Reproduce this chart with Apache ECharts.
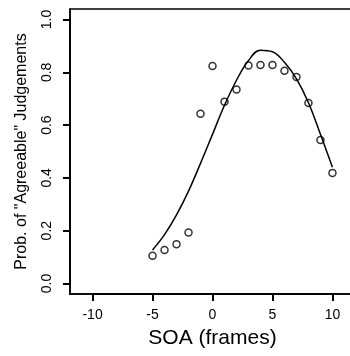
<!DOCTYPE html>
<html>
<head>
<meta charset="utf-8">
<script src="https://cdn.jsdelivr.net/npm/echarts@6/dist/echarts.min.js"></script>
<style>
  html, body { margin: 0; padding: 0; background: #fff; }
  #chart { width: 350px; height: 356px; }
</style>
</head>
<body>
<div id="chart"></div>
<script>
// observed proportions per SOA
const soa = [-5, -4, -3, -2, -1, 0, 1, 2, 3, 4, 5, 6, 7, 8, 9, 10]
const observed = [0.105, 0.127, 0.149, 0.193, 0.643, 0.824, 0.689, 0.735,
  0.826, 0.828, 0.828, 0.806, 0.782, 0.684, 0.544, 0.419]
// fitted curve at the same SOAs
const fitted = [0.127, 0.185, 0.26, 0.35, 0.455, 0.565, 0.675, 0.77,
  0.845, 0.884, 0.878, 0.838, 0.775, 0.685, 0.565, 0.44]
const xTicks = [-10, -5, 0, 5, 10]
const yTicks = [0, 0.2, 0.4, 0.6, 0.8, 1.0]
const xTitle = 'SOA (frames)'
const yTitle = 'Prob. of "Agreeable" Judgements'

const FONT = '"Liberation Sans", Arial, Helvetica, sans-serif'

// plot box (R style, 4% padding around the tick range)
const BOX = { left: 70, top: 9, width: 285, height: 285 }
const X_PAD = 1.88, Y_PAD = 0.04
const xSpan = xTicks[xTicks.length - 1] - xTicks[0]
const ySpan = yTicks[yTicks.length - 1] - yTicks[0]
const pxPerX = BOX.width / (xSpan + 2 * X_PAD)
const pxPerY = BOX.height / (ySpan + 2 * Y_PAD)
const inner = {
  left: BOX.left + X_PAD * pxPerX,
  width: xSpan * pxPerX,
  top: BOX.top + Y_PAD * pxPerY,
  height: ySpan * pxPerY,
}

const chart = echarts.init(document.getElementById('chart'), null, { renderer: 'canvas' })

chart.setOption({
  animation: false,
  grid: [
    { ...BOX, outerBoundsMode: 'none', show: true, borderColor: '#000', borderWidth: 1.5 },
    // inner grid spanning the tick range only; carries ticks + labels
    { ...inner, outerBoundsMode: 'none', show: true, borderColor: 'rgba(0,0,0,0)', borderWidth: 0 },
  ],
  // axis titles
  graphic: [
    {
      type: 'text',
      x: inner.left + inner.width / 2,
      y: 338,
      style: {
        text: xTitle, fill: '#000', font: '21px ' + FONT,
        align: 'center', verticalAlign: 'middle',
        textAlign: 'center', textVerticalAlign: 'middle',
      },
    },
    {
      type: 'text',
      x: 22,
      y: BOX.top + BOX.height / 2,
      rotation: Math.PI / 2,
      style: {
        text: yTitle, fill: '#000', font: '16px ' + FONT,
        align: 'center', verticalAlign: 'middle',
        textAlign: 'center', textVerticalAlign: 'middle',
      },
    },
  ],
  xAxis: [
    {
      gridIndex: 0,
      type: 'value',
      min: xTicks[0] - X_PAD,
      max: xTicks[xTicks.length - 1] + X_PAD,
      axisLine: { show: true, onZero: false, lineStyle: { color: '#000', width: 1.5 } },
      axisTick: { show: false },
      axisLabel: { show: false },
      splitLine: { show: false },
    },
    {
      gridIndex: 1,
      type: 'value',
      min: xTicks[0],
      max: xTicks[xTicks.length - 1],
      interval: 5,
      offset: Y_PAD * pxPerY,
      axisLine: { show: true, onZero: false, lineStyle: { color: '#000', width: 1.5 } },
      axisTick: { show: true, length: 7, lineStyle: { color: '#000', width: 2 } },
      axisLabel: { color: '#000', fontSize: 14, margin: 14 },
      splitLine: { show: false },
    },
  ],
  yAxis: [
    {
      gridIndex: 0,
      type: 'value',
      min: yTicks[0] - Y_PAD,
      max: yTicks[yTicks.length - 1] + Y_PAD,
      axisLine: { show: true, onZero: false, lineStyle: { color: '#000', width: 1.5 } },
      axisTick: { show: false },
      axisLabel: { show: false },
      splitLine: { show: false },
    },
    {
      gridIndex: 1,
      type: 'value',
      min: yTicks[0],
      max: yTicks[yTicks.length - 1],
      interval: 0.2,
      offset: X_PAD * pxPerX,
      axisLine: { show: true, onZero: false, lineStyle: { color: '#000', width: 1.5 } },
      axisTick: { show: true, length: 7, lineStyle: { color: '#000', width: 2 } },
      axisLabel: { color: '#000', fontSize: 14, margin: 16, rotate: 90, formatter: v => v.toFixed(1) },
      splitLine: { show: false },
    },
  ],
  series: [
    {
      type: 'line',
      data: soa.map((x, i) => [x, fitted[i]]),
      smooth: 0.4,
      showSymbol: false,
      lineStyle: { color: '#000', width: 1.5 },
    },
    {
      type: 'scatter',
      data: soa.map((x, i) => [x, observed[i]]),
      symbolSize: 7,
      itemStyle: { color: '#fff', borderColor: '#000', borderWidth: 1.5 },
    },
  ],
})
</script>
</body>
</html>
